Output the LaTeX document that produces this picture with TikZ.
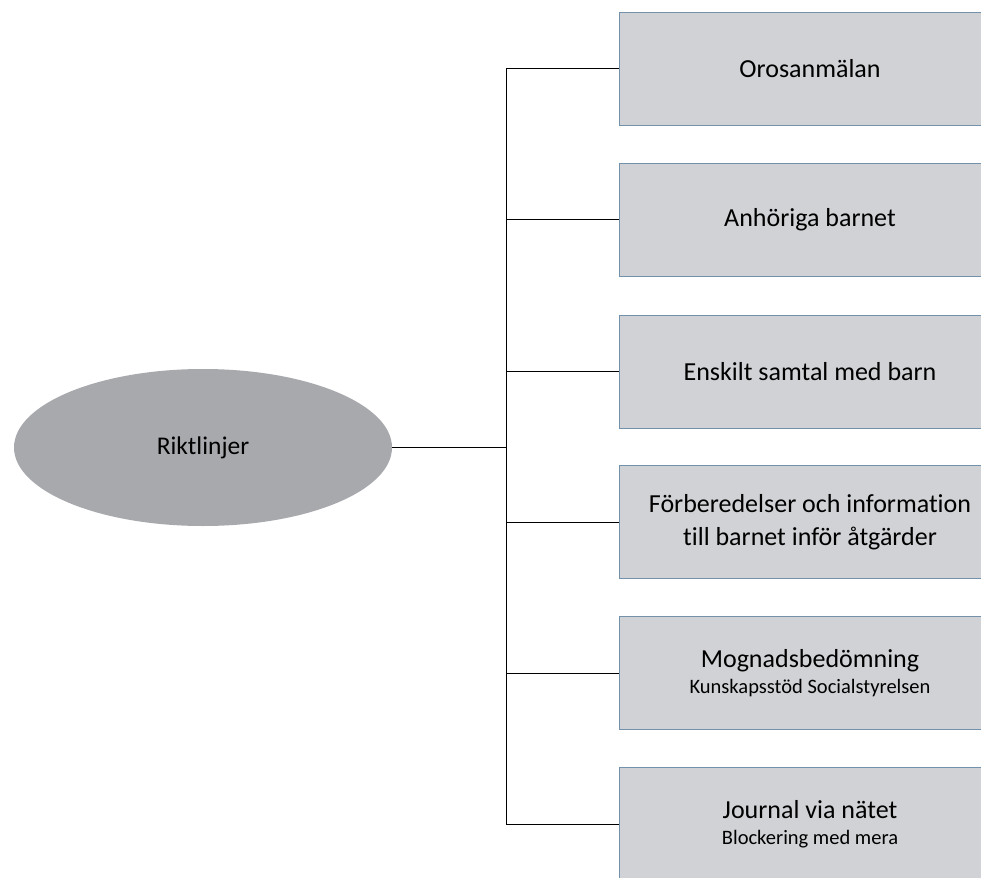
\documentclass[tikz,border=0pt]{standalone}
\usepackage{fontspec}
\setmainfont{Carlito}[Ligatures=NoCommon]
\usetikzlibrary{shapes.geometric}

\definecolor{boxgray}{HTML}{D0D2D5}
\definecolor{boxedge}{HTML}{7391AA}
\definecolor{ellgray}{HTML}{A8A9AD}
\newcommand{\subline}[1]{{\fontsize{20.5}{24}\selectfont #1}}

\begin{document}
\begin{tikzpicture}[x=1pt, y=-1pt,
  topic/.style={draw=boxedge, fill=boxgray, line width=1pt,
    minimum width=382pt, minimum height=113pt, align=center,
    font=\fontsize{26}{33}\selectfont},
  root/.style={ellipse, fill=ellgray, minimum width=378pt,
    minimum height=157pt, font=\fontsize{25.5}{30}\selectfont}]
  \useasboundingbox (0,0) rectangle (981,877);
  \clip (0,0) rectangle (981,877);

  \node[root] (rikt) at (203,447.5) {Riktlinjer};

  \node[topic] (b1) at (810,69) {Orosanmälan};
  \node[topic] (b2) at (810,220) {Anhöriga barnet};
  \node[topic] (b3) at (810,371.5) {Enskilt samtal med barn};
  \node[topic] (b4) at (810,522) {Förberedelser och information\\till barnet inför åtgärder};
  \node[topic] (b5) at (810,673) {Mognadsbedömning\\[-7pt]\subline{Kunskapsstöd Socialstyrelsen}};
  \node[topic] (b6) at (810,824) {Journal via nätet\\[-7pt]\subline{Blockering med mera}};

  % tree lines
  \coordinate (split) at (506,447.5);
  \draw[line width=1pt] (rikt) -- (split);
  \draw[line width=1pt] (split |- b1) -- (split |- b6);
  \foreach \i in {1,...,6}
    \draw[line width=1pt] (split |- b\i) -- (b\i.west);

\end{tikzpicture}
\end{document}
